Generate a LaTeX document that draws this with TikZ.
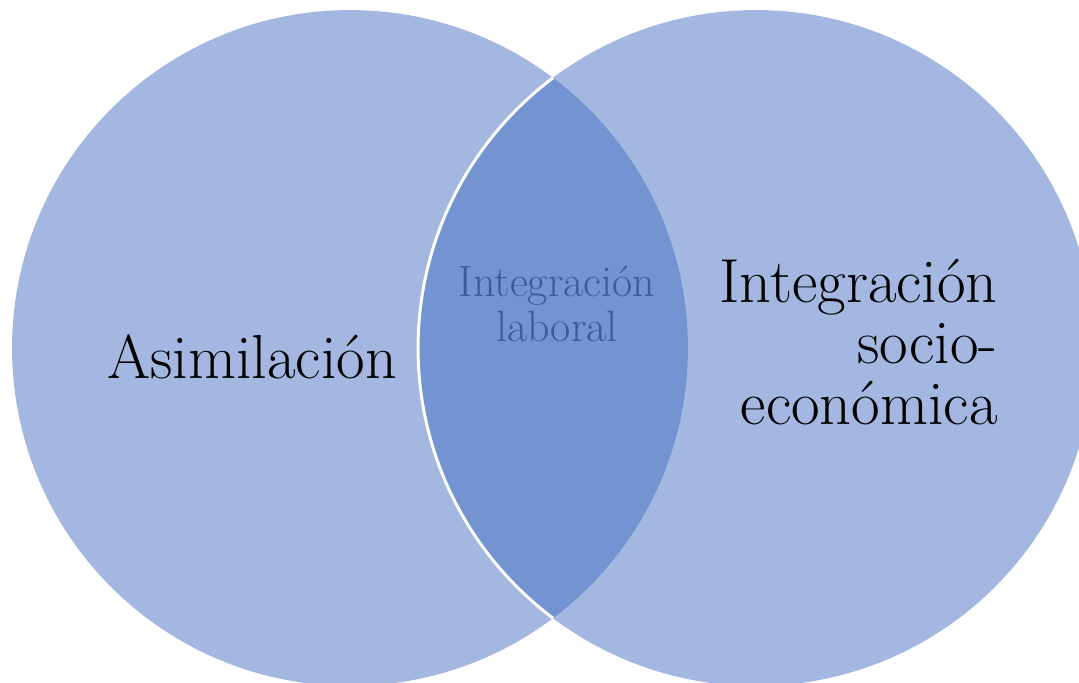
\documentclass[tikz,border=0pt]{standalone}
\usepackage{fontspec}
\usepackage{tikz}
\usetikzlibrary{calc,backgrounds,positioning}

\definecolor{setfill}{HTML}{A4B7E1}
\definecolor{lensfill}{HTML}{7394D1}
\definecolor{lenstext}{HTML}{3F5B95}

\begin{document}
\begin{tikzpicture}[x=0.02cm,y=-0.02cm,inner sep=0pt,
  bigtext/.style={font=\fontsize{35.4}{34.6}\selectfont,text=black},
  smalltext/.style={font=\fontsize{25}{25.6}\selectfont,text=lenstext,align=center}]
\useasboundingbox (0,0) rectangle (1079,683);
\clip (0,0) rectangle (1079,683);
\coordinate (cL) at (350,348);
\coordinate (cR) at (756,348);
\def\rad{6.76cm}

\fill[setfill] (cL) circle (\rad);
\fill[setfill] (cR) circle (\rad);
\begin{scope}
\clip (cL) circle (\rad);
\fill[lensfill] (cR) circle (\rad);
\draw[white,line width=1.7pt] (cR) circle (\rad);
\end{scope}

\coordinate (a) at (252,378);
\coordinate (b) at (998,342);
\coordinate (c) at (557,304);
\node (asim) at (a) [bigtext,anchor=base] {Asimilación};
\node (socio) at (b) [bigtext,anchor=east,align=right] {Integración\\socio-\\económica};
\node (labor) at (c) [smalltext] {Integración\\laboral};
\end{tikzpicture}
\end{document}
